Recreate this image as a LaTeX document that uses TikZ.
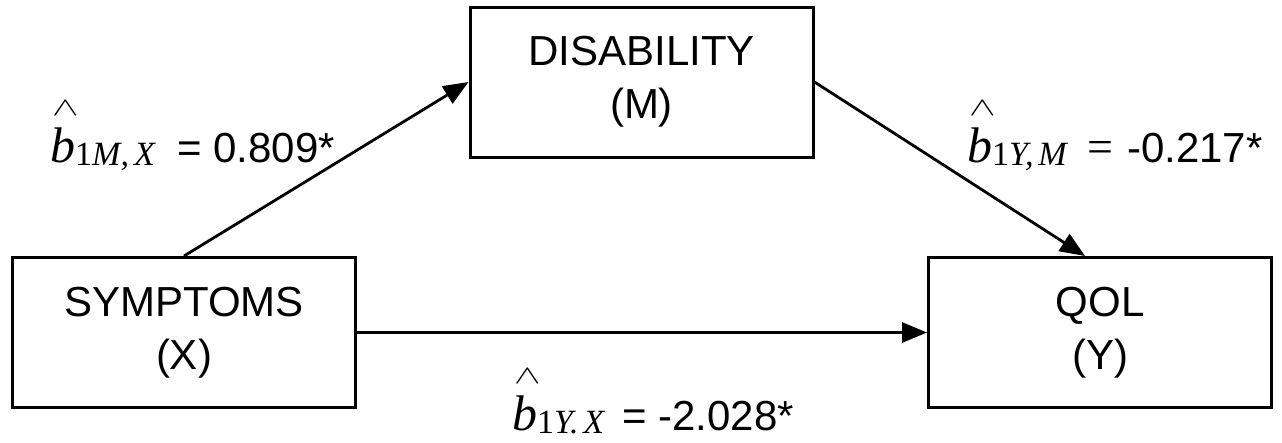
\documentclass[tikz,border=0pt]{standalone}
\usepackage{graphicx}
\usepackage{fontspec}
\setmainfont{Liberation Sans}
\newfontfamily\serifcoef{Liberation Serif}
\usetikzlibrary{arrows.meta}

% b con gorro y subindice
\newcommand{\coef}[2]{%
  \rlap{\raisebox{47pt}{\hspace{2pt}\scalebox{1.6}[1.05]{$\wedge$}}}%
  {\serifcoef\itshape\fontsize{50}{50}\selectfont b}%
  \raisebox{-3pt}{\serifcoef\fontsize{34}{34}\selectfont 1\itshape #1\hspace{5pt}#2}}

\begin{document}
\begin{tikzpicture}[x=1pt, y=-1pt,
    caja/.style={draw, line width=3pt, minimum width=343pt, minimum height=150pt,
      align=center, font=\fontsize{42}{53}\selectfont},
    flecha/.style={line width=2.8pt, -{Triangle[length=25pt, width=20pt]}},
    coef/.style={anchor=base west, inner sep=0pt, font=\fontsize{42}{42}\selectfont}]
    \useasboundingbox (0,0) rectangle (1282,442);

    % Cajas de las variables
    \node[caja] (sintomas) at (184, 332.5) {SYMPTOMS\\(X)};
    \node[caja] (discap) at (641.5, 82) {DISABILITY\\(M)};
    \node[caja] (qol) at (1100, 332.5) {QOL\\(Y)};

    % Flechas entre variables
    \draw[flecha] (sintomas.north) -- (discap.west);
    \draw[flecha] (discap.east) -- ([xshift=-15pt]qol.north);
    \draw[flecha] (sintomas.east) -- (qol.west);

    % Coeficientes de cada camino
    \node[coef] (bMX) at (50, 162) {\makebox[127pt][l]{\coef{M,}{X}}= 0.809*};
    \node[coef] (bYM) at (967, 162) {\makebox[120pt][l]{\coef{Y,}{M}}{\serifcoef\fontsize{46}{46}\selectfont=}\hspace{14pt}-0.217*};
    \node[coef] (bYX) at (512, 430) {\makebox[110pt][l]{\coef{Y.}{X}}= -2.028*};

\end{tikzpicture}
\end{document}
